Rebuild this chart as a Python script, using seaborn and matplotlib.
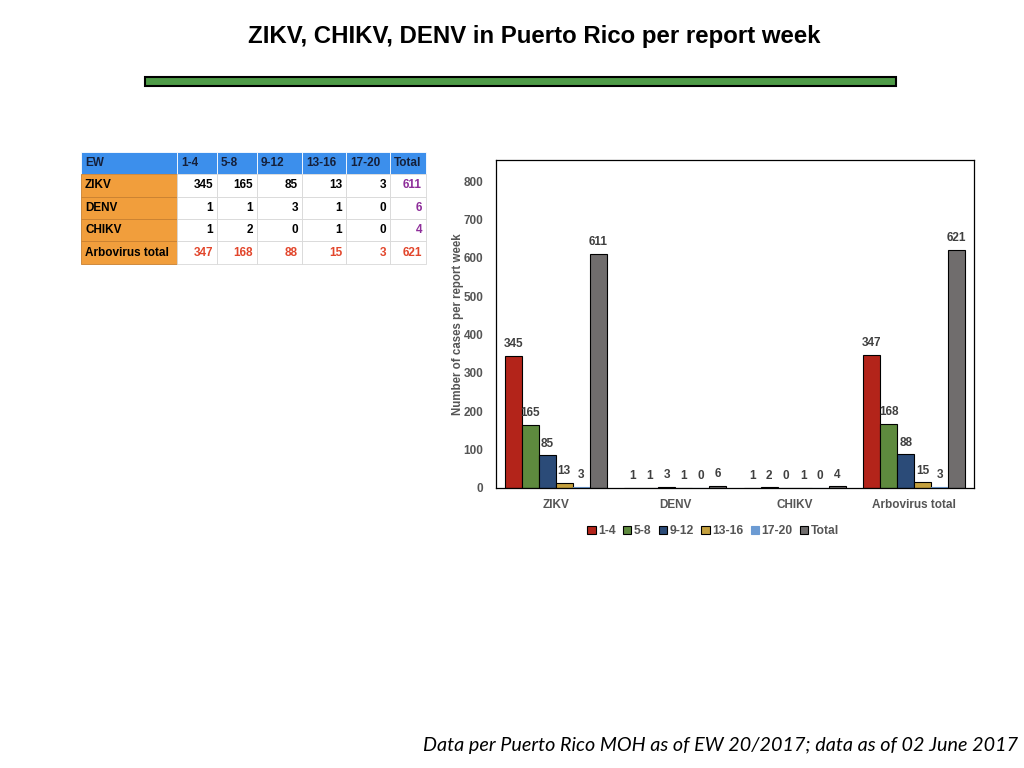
import matplotlib
matplotlib.use("Agg")
import matplotlib.pyplot as plt
from matplotlib.patches import Rectangle
import seaborn as sns
import pandas as pd

# ---- data ----
categories = ["ZIKV", "DENV", "CHIKV", "Arbovirus total"]
periods = ["1-4", "5-8", "9-12", "13-16", "17-20", "Total"]
zikv = [345, 165, 85, 13, 3, 611]
denv = [1, 1, 3, 1, 0, 6]
chikv = [1, 2, 0, 1, 0, 4]
arbo_total = [347, 168, 88, 15, 3, 621]
series = [zikv, denv, chikv, arbo_total]

title = "ZIKV, CHIKV, DENV in Puerto Rico per report week"
ylabel = "Number of cases per report week"
footer = "Data per Puerto Rico MOH as of EW 20/2017; data as of 02 June 2017"
table_header = ["EW"] + periods

colors = ["#B3241A", "#5E8A3E", "#2B4B78", "#C4A03E", "#6C9BD3", "#706D6D"]

rows = []
for cat, vals in zip(categories, series):
    for p, v in zip(periods, vals):
        rows.append({"category": cat, "period": p, "value": v})
df = pd.DataFrame(rows)

sns.set_theme(style="white")
plt.rcParams["font.family"] = ["Liberation Sans", "DejaVu Sans"]

fig = plt.figure(figsize=(10.24, 7.68), dpi=100)

# overlay axes in pixel coordinates for decorations/table
deco = fig.add_axes([0, 0, 1, 1], zorder=0)
deco.set_xlim(0, 1024)
deco.set_ylim(768, 0)
deco.axis("off")

# title and green rule
deco.text(534, 37, title, ha="center", va="center", fontsize=17.3,
          fontweight="bold", color="black")
deco.add_patch(Rectangle((145, 77), 751, 9, facecolor="#4E9B47",
                         edgecolor="black", linewidth=1.5))

# footer
deco.text(1018, 745, footer, ha="right", va="center", fontsize=14.2,
          style="italic", family=["Lato", "DejaVu Sans"], color="black")

# ---- table ----
col_x = [81, 177, 217, 257, 302, 346, 390, 426]
row_y = [152, 174, 197, 219, 241, 264]
hdr_blue = "#3C8FEC"
orange = "#F19E3C"
grid_c = "#D8D8D8"
tfs = 8.5
for ci in range(len(col_x) - 1):
    deco.add_patch(Rectangle((col_x[ci], row_y[0]), col_x[ci + 1] - col_x[ci],
                             row_y[1] - row_y[0], facecolor=hdr_blue,
                             edgecolor="white", linewidth=0.6))
    tx = col_x[ci] + 4
    deco.text(tx, (row_y[0] + row_y[1]) / 2, table_header[ci], ha="left",
              va="center", fontsize=tfs, fontweight="bold", color="#15203A")
for ri, (cat, vals) in enumerate(zip(categories, series)):
    y0, y1 = row_y[ri + 1], row_y[ri + 2]
    deco.add_patch(Rectangle((col_x[0], y0), col_x[1] - col_x[0], y1 - y0,
                             facecolor=orange, edgecolor="#C98030", linewidth=0.6))
    deco.text(col_x[0] + 4, (y0 + y1) / 2, cat, ha="left", va="center",
              fontsize=tfs, fontweight="bold", color="black")
    for ci, v in enumerate(vals):
        x0, x1 = col_x[ci + 1], col_x[ci + 2]
        deco.add_patch(Rectangle((x0, y0), x1 - x0, y1 - y0, facecolor="white",
                                 edgecolor=grid_c, linewidth=0.6))
        if ri == len(categories) - 1:
            c = "#E2462C"
        elif ci == len(vals) - 1:
            c = "#8E2E9A"
        else:
            c = "black"
        deco.text(x1 - 4, (y0 + y1) / 2, str(v), ha="right", va="center",
                  fontsize=tfs, fontweight="bold", color=c)

# ---- bar chart ----
ax = fig.add_axes([496 / 1024, 1 - 488 / 768, (974 - 496) / 1024, (488 - 160) / 768],
                  zorder=2)
sns.barplot(data=df, x="category", y="value", hue="period", order=categories,
            hue_order=periods, palette=colors, width=0.85, gap=0,
            edgecolor="black", linewidth=0.8, saturation=1, ax=ax)
ax.set_ylim(0, 855)
ax.set_yticks(range(0, 801, 100))
ax.set_xlabel("")
ax.set_ylabel(ylabel, fontsize=8.3, fontweight="bold", color="#555555", labelpad=0)
ax.tick_params(axis="both", length=0, labelsize=8.5, labelcolor="#555555")
ax.tick_params(axis="y", pad=9)
ax.tick_params(axis="x", pad=8)
for lbl in ax.get_xticklabels() + ax.get_yticklabels():
    lbl.set_fontweight("bold")
for s in ax.spines.values():
    s.set_color("black")
    s.set_linewidth(0.9)

# the 17-20 series has no dark outline in the reference
light_idx = periods.index("17-20")
for patch in ax.containers[light_idx]:
    patch.set_edgecolor(colors[light_idx])

for cont in ax.containers:
    ax.bar_label(cont, labels=[str(int(v)) for v in cont.datavalues], padding=4,
                 fontsize=8.5, fontweight="bold", color="#404040")

handles, labels = ax.get_legend_handles_labels()
handles[light_idx].set_edgecolor(colors[light_idx])
ax.legend(handles, labels, loc="upper center", bbox_to_anchor=(0.454, -0.08),
          ncol=6, frameon=False, handlelength=0.7, handleheight=0.7,
          handletextpad=0.2, columnspacing=0.6, labelcolor="#555555",
          prop={"weight": "bold", "size": 8.7})

fig.savefig("out.png", dpi=100, facecolor="white")
